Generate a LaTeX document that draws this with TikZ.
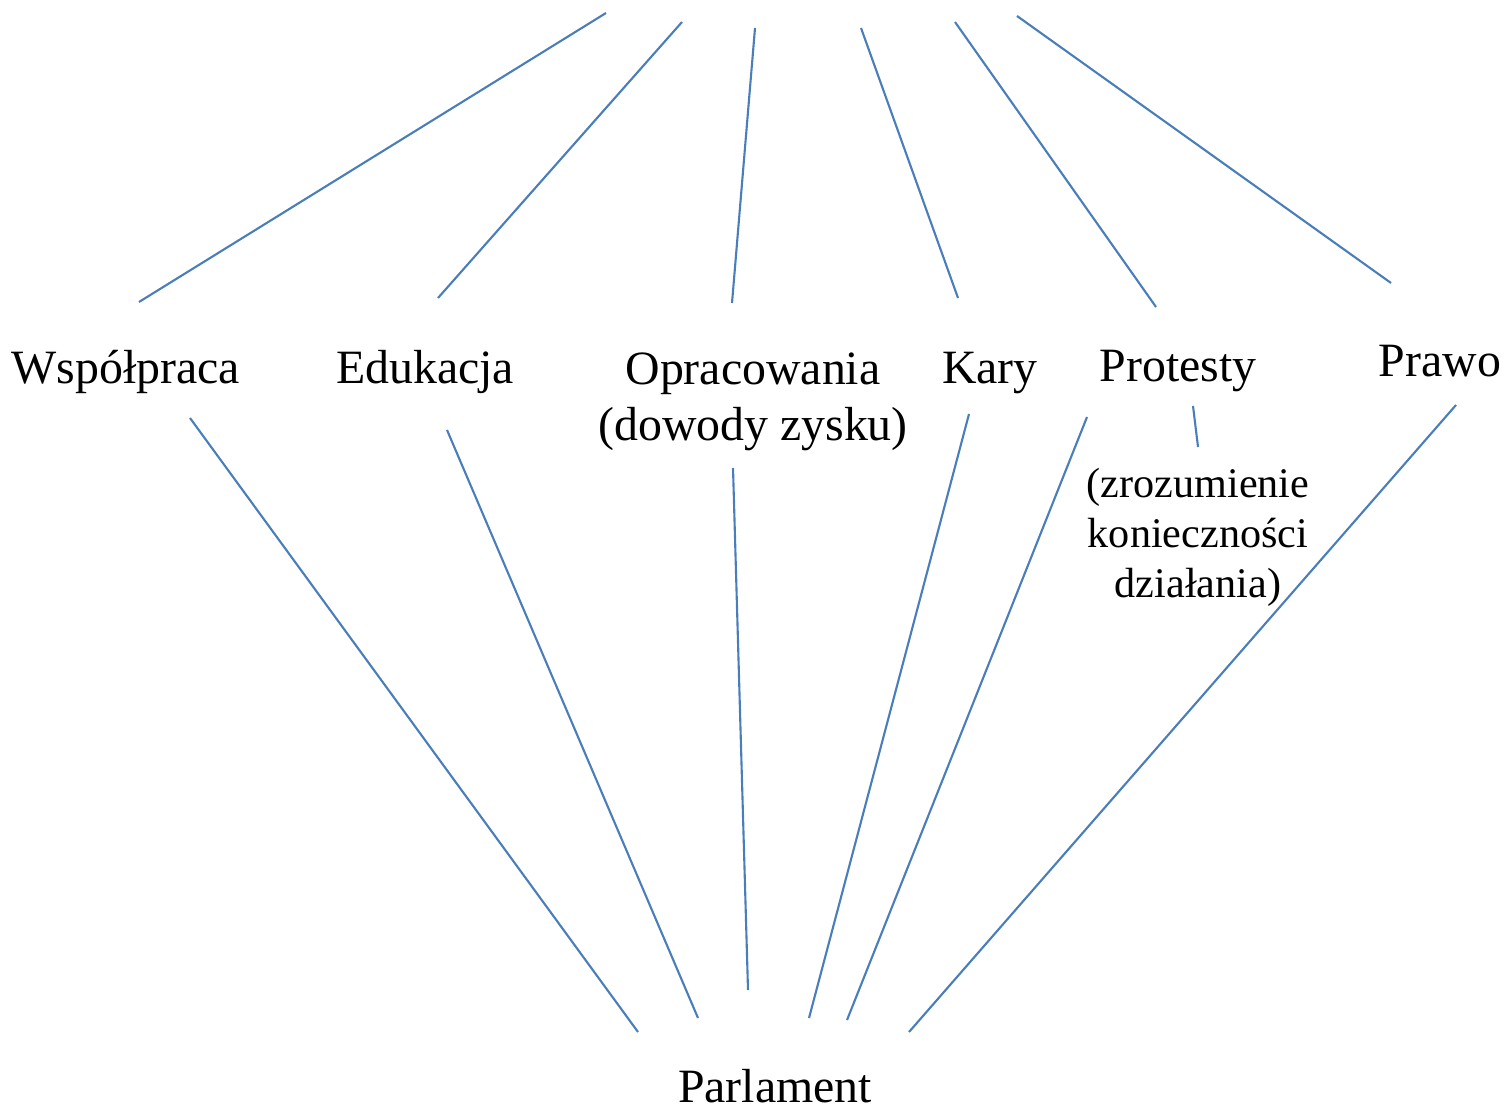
\documentclass[tikz,border=0pt]{standalone}
\usepackage{fontspec}
\setmainfont{Liberation Serif}
\definecolor{linkblue}{HTML}{4A7EBB}

\begin{document}
\begin{tikzpicture}[x=0.01cm,y=-0.01cm,
    word/.style={font=\fontsize{13.6}{16.2}\selectfont,inner sep=0pt,anchor=base,align=center},
    note/.style={font=\fontsize{12}{14.2}\selectfont,inner sep=0pt,anchor=base,align=center},
    link/.style={linkblue,line width=0.6pt}]
                                \useasboundingbox (0,0) rectangle (1507,1107);
                                \node[word] (wsp) at (126,384) {Współpraca};
                                \node[word] (edu) at (425,384) {Edukacja};
                                \node[word] (opr) at (753,441) {Opracowania\\(dowody zysku)};
                                \node[word] (kary) at (990,384) {Kary};
                                \node[word] (prot) at (1178,382) {Protesty};
                                \node[word] (prawo) at (1440,377) {Prawo};
                                \node[note] (zroz) at (1198,597) {(zrozumienie\\konieczności\\działania)};
                                \node[word] (parl) at (775,1102) {Parlament};
                                % ends at the top
                                \coordinate (wsp-t) at (606,13);
                                \coordinate (edu-t) at (682,22);
                                \coordinate (opr-t) at (755,28);
                                \coordinate (kary-t) at (861,28);
                                \coordinate (prot-t) at (955,22);
                                \coordinate (prawo-t) at (1017,16);
                                \draw[link] (wsp-t) -- (139,302);
                                \draw[link] (edu-t) -- (438,298);
                                \draw[link] (opr-t) -- (732,303);
                                \draw[link] (kary-t) -- (958,298);
                                \draw[link] (prot-t) -- (1156,307);
                                \draw[link] (prawo-t) -- (1391,283);
                                % down to the parliament
                                \draw[link] (190,418) -- (638,1032);
                                \draw[link] (447,430) -- (698,1018);
                                \draw[link] (733,468) -- (748,990);
                                \draw[link] (969,414) -- (809,1018);
                                \draw[link] (1087,417) -- (847,1020);
                                \draw[link] (1456,405) -- (909,1032);
                                \draw[link] (1193,406) -- (1198,447);
                            \end{tikzpicture}
\end{document}
